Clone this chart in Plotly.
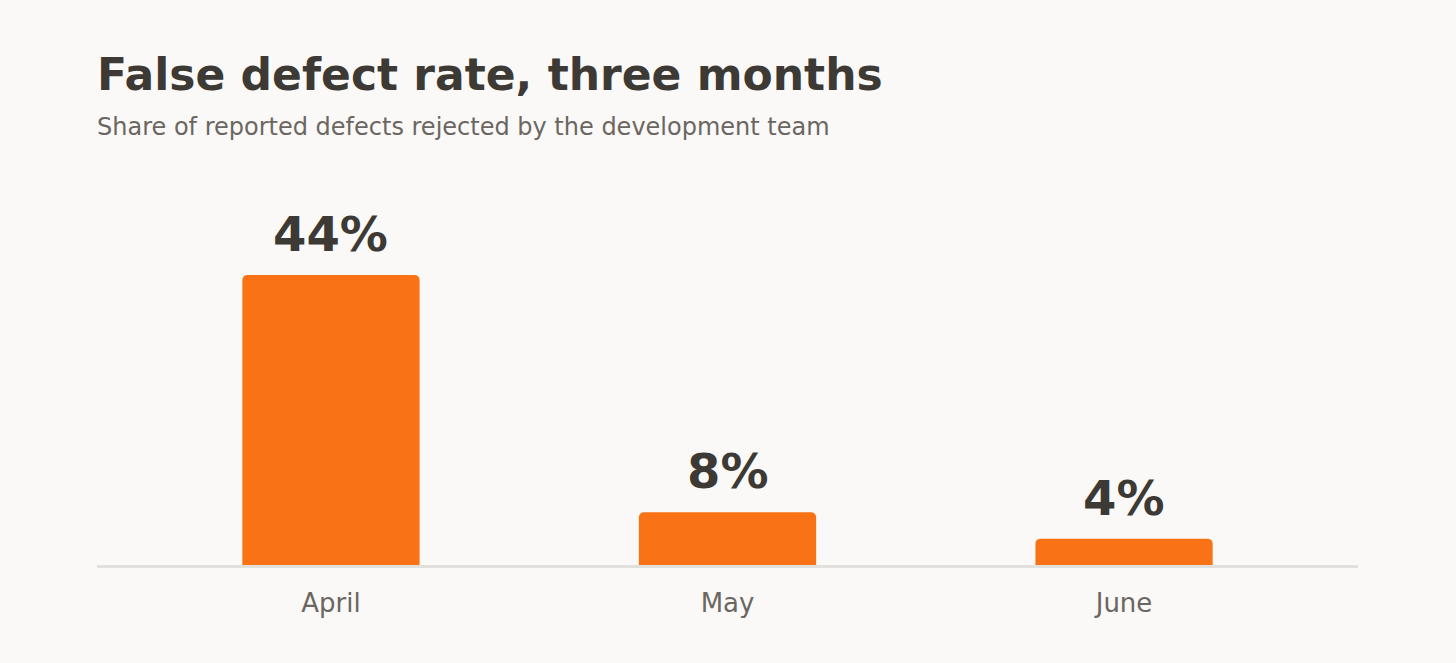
import plotly.graph_objects as go

months = ["April", "May", "June"]
rates = [44, 8, 4]
labels = ["44%", "8%", "4%"]

BG = "#faf9f7"
BAR = "#f97316"
DARK = "#3d3934"
GRAY = "#6b6661"

fig = go.Figure()
fig.add_trace(go.Bar(
    x=months, y=rates, width=0.447,
    marker=dict(color=BAR, line=dict(width=0)),
    hoverinfo="skip",
))

for m, v, t in zip(months, rates, labels):
    fig.add_annotation(x=m, y=v, text=f"<b>{t}</b>", showarrow=False,
                       yanchor="bottom", yshift=11,
                       font=dict(family="DejaVu Sans", size=48, color=DARK))

fig.add_annotation(xref="paper", yref="paper", x=0, y=1, xanchor="left", yanchor="bottom",
                   text="<b>False defect rate, three months</b>", showarrow=False,
                   font=dict(family="DejaVu Sans", size=44, color=DARK), yshift=78, xshift=-2)
fig.add_annotation(xref="paper", yref="paper", x=0, y=1, xanchor="left", yanchor="bottom",
                   text="Share of reported defects rejected by the development team", showarrow=False,
                   font=dict(family="DejaVu Sans", size=24, color=GRAY), yshift=37, xshift=-2)

fig.update_layout(
    width=1456, height=663,
    paper_bgcolor=BG, plot_bgcolor=BG,
    margin=dict(l=97, r=98, t=180, b=98),
    barcornerradius=5,
    showlegend=False,
    font=dict(family="DejaVu Sans"),
    xaxis=dict(range=[-0.59, 2.59], showgrid=False, zeroline=False, showline=True,
               linecolor="#e2e0dd", linewidth=3, ticks="", fixedrange=True,
               tickfont=dict(size=26, color=GRAY), ticklabelstandoff=13),
    yaxis=dict(range=[0, 58.4], visible=False, fixedrange=True),
)

fig.write_html("out.html", config={"displayModeBar": False},
               post_script="document.body.style.margin='0';document.body.style.background='#faf9f7';")
